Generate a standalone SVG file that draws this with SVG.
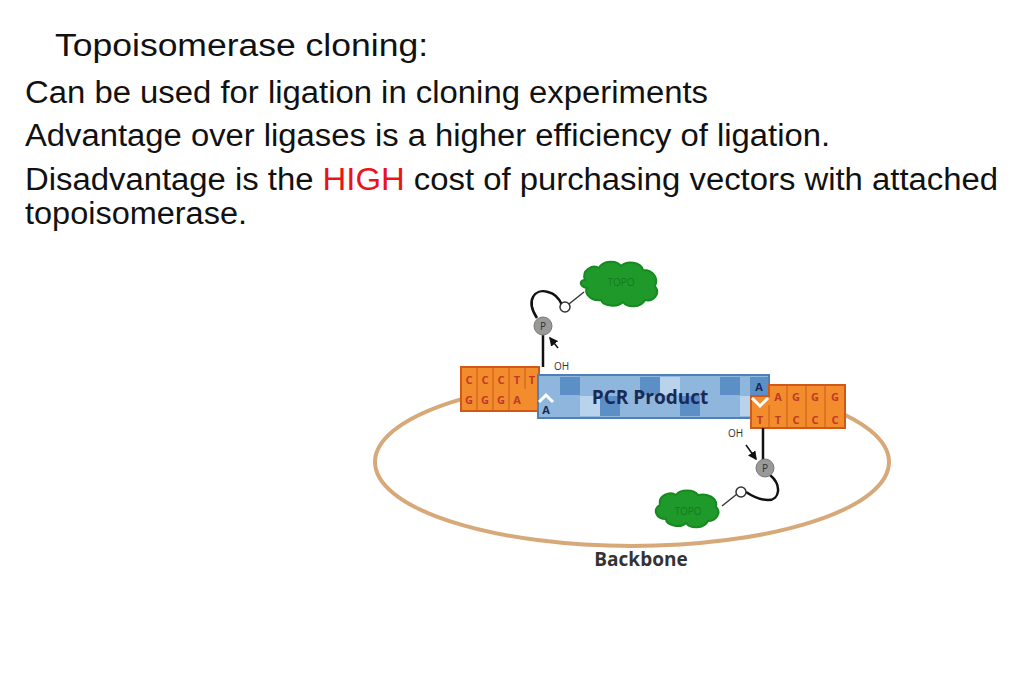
<svg xmlns="http://www.w3.org/2000/svg" width="1024" height="683" viewBox="0 0 1024 683">
<style>
.t{font-family:"Liberation Sans",Arial,sans-serif;font-size:31px;fill:#111}
.b{font-family:"Open Sans","DejaVu Sans",sans-serif;font-weight:bold;fill:#c0392b;font-size:11px;text-anchor:middle}
.o{fill:#f28c2c;stroke:#d2581a;stroke-width:2}
.topo{fill:#1f9a2a;stroke:#168a20;stroke-width:2}
.tt{font-family:"Open Sans",sans-serif;font-size:10px;fill:#147a20;text-anchor:middle}
.lk{fill:none;stroke:#111;stroke-width:2.5}
.pc{fill:#999;stroke:#777}
.sm{font-family:"Open Sans","DejaVu Sans",sans-serif;font-size:10px;fill:#333}
</style>
<defs><marker id="ar" markerWidth="6" markerHeight="6" refX="5" refY="3" orient="auto"><path d="M0,0L6,3L0,6z" fill="#111"/></marker></defs>
<rect width="1024" height="683" fill="#fff"/>
<text class="t" x="55" y="56" textLength="373" lengthAdjust="spacingAndGlyphs">Topoisomerase cloning:</text>
<text class="t" x="25" y="103" textLength="683" lengthAdjust="spacingAndGlyphs">Can be used for ligation in cloning experiments</text>
<text class="t" x="25" y="146" textLength="805" lengthAdjust="spacingAndGlyphs">Advantage over ligases is a higher efficiency of ligation.</text>
<text class="t" x="25" y="190" textLength="973" lengthAdjust="spacingAndGlyphs">Disadvantage is the <tspan fill="#e8141a">HIGH</tspan> cost of purchasing vectors with attached</text>
<text class="t" x="25" y="224" textLength="222" lengthAdjust="spacingAndGlyphs">topoisomerase.</text>
<g id="backbone"><ellipse cx="632" cy="462" rx="257" ry="84" fill="none" stroke="#d7a878" stroke-width="4"/>
<text x="641" y="566" font-family="Open Sans,DejaVu Sans,sans-serif" font-weight="bold" font-size="19" fill="#333" text-anchor="middle">Backbone</text></g>
<g id="left-end"><rect class="o" x="461" y="367" width="78" height="44"/>
<g stroke="#d2581a"><line x1="477" y1="367" x2="477" y2="411"/><line x1="493" y1="367" x2="493" y2="411"/><line x1="509" y1="367" x2="509" y2="411"/><line x1="525" y1="367" x2="525" y2="389"/></g>
<text class="b" x="469" y="384">C</text><text class="b" x="485" y="384">C</text><text class="b" x="501" y="384">C</text><text class="b" x="517" y="384">T</text><text class="b" x="532" y="384">T</text>
<text class="b" x="469" y="404">G</text><text class="b" x="485" y="404">G</text><text class="b" x="501" y="404">G</text><text class="b" x="517" y="404">A</text></g>
<g id="pcr"><rect x="538" y="375" width="231" height="43" fill="#8fb6dc" stroke="#4f7fb4" stroke-width="2"/>
<g fill="#5d8fc7"><rect x="560" y="377" width="20" height="18"/><rect x="600" y="396" width="20" height="20"/><rect x="640" y="377" width="20" height="18"/><rect x="680" y="396" width="20" height="20"/><rect x="720" y="377" width="20" height="18"/><rect x="750" y="377" width="18" height="18"/></g>
<g fill="#b9d3ec"><rect x="580" y="396" width="20" height="20"/><rect x="660" y="377" width="20" height="18"/><rect x="740" y="396" width="10" height="20"/></g>
<text x="650" y="404" font-family="Open Sans,DejaVu Sans,sans-serif" font-weight="bold" font-size="19" fill="#1a2a55" text-anchor="middle">PCR Product</text>
<path d="M539,402L546,395L553,402" fill="none" stroke="#fff" stroke-width="3"/>
<text x="546" y="414" font-family="Open Sans,sans-serif" font-weight="bold" font-size="11" fill="#1a2a55" text-anchor="middle">A</text>
<text x="759" y="391" font-family="Open Sans,sans-serif" font-weight="bold" font-size="11" fill="#1a2a55" text-anchor="middle">A</text>
</g>
<g id="right-end"><path class="o" d="M769,385H845V428H751V396H769Z"/>
<g stroke="#d2581a"><line x1="787" y1="385" x2="787" y2="428"/><line x1="806" y1="385" x2="806" y2="428"/><line x1="825" y1="385" x2="825" y2="428"/><line x1="769" y1="405" x2="769" y2="428"/></g>
<path d="M752,398L760,406L768,398" fill="none" stroke="#fff" stroke-width="3"/>
<text class="b" x="778" y="401">A</text><text class="b" x="796" y="401">G</text><text class="b" x="815" y="401">G</text><text class="b" x="835" y="401">G</text>
<text class="b" x="760" y="424">T</text><text class="b" x="778" y="424">T</text><text class="b" x="796" y="424">C</text><text class="b" x="815" y="424">C</text><text class="b" x="835" y="424">C</text></g>
<g id="connectors">
<line class="lk" x1="543" y1="335" x2="543" y2="367"/>
<path class="lk" d="M537,318C525,300 535,288 548,292C556,294 560,300 562,305"/>
<line x1="569" y1="304" x2="584" y2="292" stroke="#333" stroke-width="1.5"/>
<line x1="558" y1="348" x2="550" y2="338" stroke="#111" stroke-width="1.5" marker-end="url(#ar)"/>
<line class="lk" x1="763" y1="428" x2="763" y2="460"/>
<path class="lk" d="M770,475C782,485 780,500 768,500C760,500 752,496 746,492"/>
<line x1="737" y1="494" x2="722" y2="506" stroke="#333" stroke-width="1.5"/>
<line x1="746" y1="445" x2="756" y2="459" stroke="#111" stroke-width="1.5" marker-end="url(#ar)"/>
</g>
<g id="topo-top"><path class="topo" d="M585,280c-4,-10 8,-16 14,-12c4,-8 18,-8 22,-2c6,-6 20,-4 22,4c10,0 16,8 12,16c6,8 -2,16 -10,14c-4,8 -18,8 -22,2c-6,6 -20,4 -22,-2c-10,2 -18,-8 -14,-12c-8,-2 -8,-8 -2,-8z"/><text class="tt" x="621" y="286">TOPO</text></g>
<g id="topo-bottom"><path class="topo" d="M660,505c-2,-10 10,-14 16,-10c4,-6 18,-6 22,0c8,-2 20,2 18,12c6,6 0,14 -8,14c-4,8 -18,8 -22,2c-6,6 -20,2 -20,-4c-10,0 -14,-10 -6,-14z"/><text class="tt" x="688" y="515">TOPO</text></g>
<g id="p-top"><circle class="pc" cx="543" cy="326" r="9"/><text class="sm" x="543" y="330" text-anchor="middle">P</text><circle cx="565" cy="307" r="5" fill="#fff" stroke="#333" stroke-width="1.5"/><text class="sm" x="554" y="370" font-size="13">OH</text></g>
<g id="p-bottom"><circle class="pc" cx="765" cy="468" r="9"/><text class="sm" x="765" y="472" text-anchor="middle">P</text><circle cx="741" cy="492" r="5" fill="#fff" stroke="#333" stroke-width="1.5"/><text class="sm" x="728" y="437" font-size="13">OH</text></g>
</svg>
